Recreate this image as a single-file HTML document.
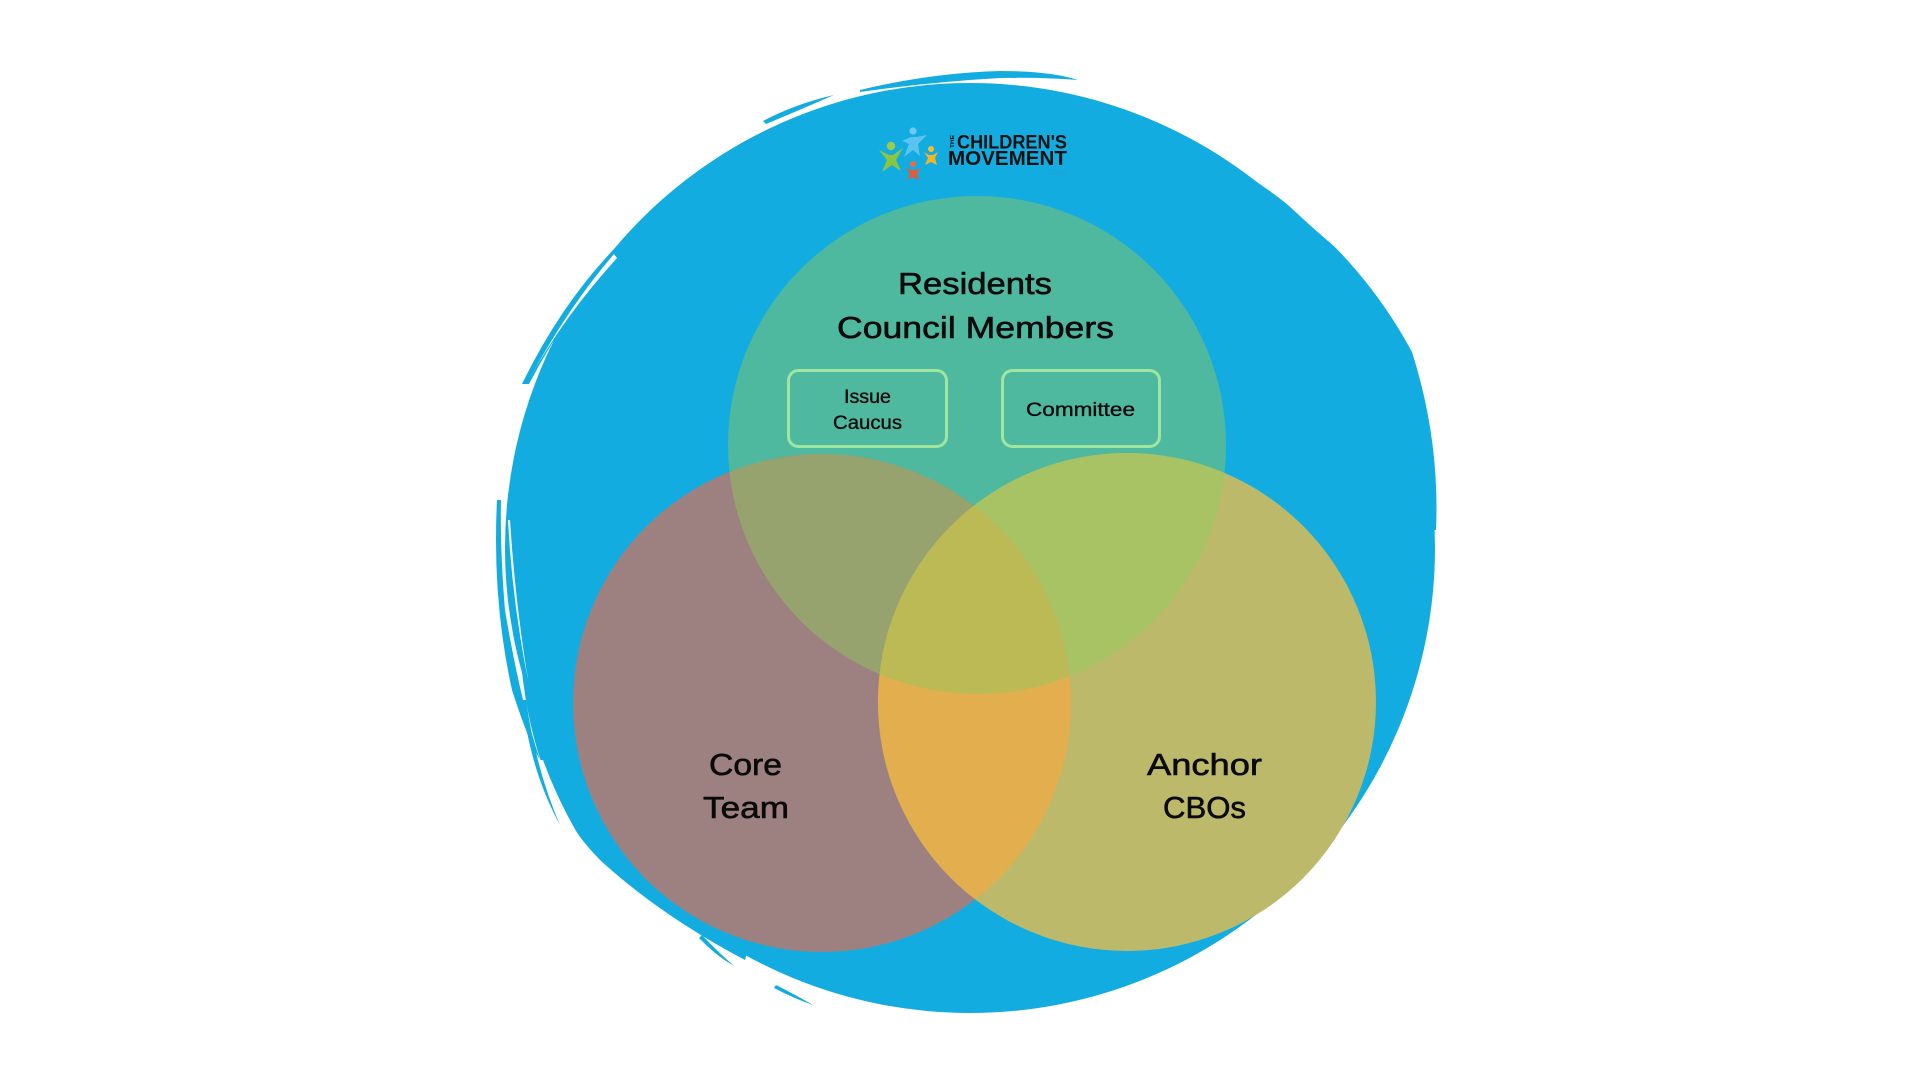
<!DOCTYPE html>
<html>
<head>
<meta charset="utf-8">
<style>
  html, body { margin:0; padding:0; background:#ffffff; }
  body { width:1920px; height:1080px; overflow:hidden; }
  svg { display:block; }
  .lbl { font-family:"Liberation Sans", sans-serif; fill:#0a0a0a; stroke:#0a0a0a; stroke-width:0.6; }
  .sm { font-family:"Liberation Sans", sans-serif; fill:#0a0a0a; stroke:#0a0a0a; stroke-width:0.35; }
  .logo { font-family:"Liberation Sans", sans-serif; fill:#111; font-weight:bold; }
</style>
</head>
<body>
<svg width="1920" height="1080" viewBox="0 0 1920 1080" xmlns="http://www.w3.org/2000/svg">
  <defs>
    <clipPath id="cT"><circle cx="977" cy="445" r="249"/></clipPath>
    <clipPath id="cC"><circle cx="822" cy="703" r="249"/></clipPath>
  </defs>

  <!-- Blue brushed circle -->
  <circle cx="970" cy="548" r="465" fill="#13ace0"/>
  <!-- upper-right bulge -->
  <path d="M1150,125 Q1330,200 1412,352 Q1440,440 1436,530 L1300,530 Z" fill="#13ace0"/>
  <!-- lower-left bulge -->
  <path d="M520,650 Q530,790 600,860 Q660,915 745,960 L760,900 L600,700 Z" fill="#13ace0"/>
  <!-- outer blue brush strokes (top) -->
  <path d="M860,90 Q930,73 1000,71 Q1050,71 1078,80 Q1040,77 1000,78 Q930,82 860,92 Z" fill="#13ace0"/>
  <path d="M763,121 Q795,104 834,95 Q802,109 766,124 Z" fill="#13ace0"/>
  <!-- outer blue brush strokes (upper-left) -->
  <path d="M620,243 Q563,300 522,384 L529,384 Q570,306 622,250 Z" fill="#13ace0"/>
  <!-- outer blue brush strokes (left) -->
  <path d="M497,500 Q492,600 512,690 Q528,740 540,760 Q520,700 505,610 Q500,550 501,500 Z" fill="#13ace0"/>
  <path d="M522,700 Q530,770 560,825 Q536,770 526,700 Z" fill="#13ace0"/>
  <!-- outer blue brush strokes (bottom-left) -->
  <path d="M699,938 Q715,955 734,966 Q716,950 702,935 Z" fill="#13ace0"/>
  <path d="M774,988 Q793,998 813,1005 Q794,994 776,985 Z" fill="#13ace0"/>
  <!-- white slivers inside edge -->
  <path d="M614,254 Q570,305 531,376 Q566,314 617,258 Z" fill="#ffffff"/>
  <path d="M508,520 Q512,600 528,680 Q515,600 510,520 Z" fill="#ffffff"/>
  <path d="M540,760 Q560,815 598,866 Q563,815 543,760 Z" fill="#ffffff"/>
  <path d="M1268,182 Q1305,215 1342,253 Q1305,222 1266,184 Z" fill="#ffffff"/>

  <!-- Venn base circles -->
  <circle cx="977" cy="445" r="249" fill="#4fb9a0"/>
  <circle cx="822" cy="703" r="249" fill="#9d8180"/>
  <circle cx="1127" cy="702" r="249" fill="#bcb96b"/>
  <!-- overlaps -->
  <circle cx="822" cy="703" r="249" fill="#97a36f" clip-path="url(#cT)"/>
  <circle cx="1127" cy="702" r="249" fill="#a7c364" clip-path="url(#cT)"/>
  <circle cx="1127" cy="702" r="249" fill="#e2ae4e" clip-path="url(#cC)"/>
  <g clip-path="url(#cT)">
    <circle cx="1127" cy="702" r="249" fill="#bcba55" clip-path="url(#cC)"/>
  </g>

  <!-- Boxes -->
  <rect x="788.5" y="370.5" width="158" height="76" rx="10" ry="10" fill="none" stroke="#9fe6a0" stroke-width="3"/>
  <rect x="1002.5" y="370.5" width="157" height="76" rx="10" ry="10" fill="none" stroke="#9fe6a0" stroke-width="3"/>

  <!-- Labels -->
  <text class="lbl" x="898" y="294" font-size="31" textLength="154" lengthAdjust="spacingAndGlyphs">Residents</text>
  <text class="lbl" x="837" y="338" font-size="31" textLength="277" lengthAdjust="spacingAndGlyphs">Council Members</text>

  <text class="sm" x="844" y="403" font-size="19" textLength="47" lengthAdjust="spacingAndGlyphs">Issue</text>
  <text class="sm" x="833" y="429" font-size="19" textLength="69" lengthAdjust="spacingAndGlyphs">Caucus</text>
  <text class="sm" x="1026" y="416" font-size="19" textLength="109" lengthAdjust="spacingAndGlyphs">Committee</text>

  <text class="lbl" x="709" y="775" font-size="31" textLength="73" lengthAdjust="spacingAndGlyphs">Core</text>
  <text class="lbl" x="703" y="818" font-size="31" textLength="86" lengthAdjust="spacingAndGlyphs">Team</text>
  <text class="lbl" x="1147" y="775" font-size="31" textLength="115" lengthAdjust="spacingAndGlyphs">Anchor</text>
  <text class="lbl" x="1163" y="818" font-size="31" textLength="83" lengthAdjust="spacingAndGlyphs">CBOs</text>

  <!-- Logo figures -->
  <g>
    <circle cx="913" cy="131" r="3.6" fill="#6fcaf2"/>
    <path d="M902,141 L911,137 L916,137 L927,135 L918,144 L920,156 L913,150 L904,157 L909,144 Z" fill="#5cc2ef"/>
    <circle cx="891" cy="146" r="4.2" fill="#9ccb4a"/>
    <path d="M879,150 L889,155 L893,155 L903,148 L896,160 L901,171 L892,165 L882,172 L887,160 Z" fill="#8cc63f"/>
    <circle cx="931" cy="149" r="3" fill="#f5bd2f"/>
    <path d="M924,152 L929,155 L933,155 L938,152 L935,158 L937,165 L931,162 L925,165 L928,158 Z" fill="#f4b528"/>
    <circle cx="913" cy="164" r="3" fill="#ea6a48"/>
    <path d="M906,168 L911,170 L915,170 L920,168 L917,174 L919,180 L913,177 L907,180 L910,174 Z" fill="#e35c3a"/>
  </g>
  <!-- Logo text -->
  <text class="logo" font-size="5.5" transform="translate(954,148) rotate(-90)" textLength="13" lengthAdjust="spacingAndGlyphs">THE</text>
  <text class="logo" x="957" y="148.5" font-size="19" textLength="110" lengthAdjust="spacingAndGlyphs">CHILDREN'S</text>
  <text class="logo" x="948" y="165" font-size="20" textLength="119" lengthAdjust="spacingAndGlyphs">MOVEMENT</text>
  <text x="1048" y="175" font-family="Liberation Sans, sans-serif" font-size="6" fill="#1c9fd8" textLength="19" lengthAdjust="spacingAndGlyphs">FRESNO</text>
</svg>
</body>
</html>
